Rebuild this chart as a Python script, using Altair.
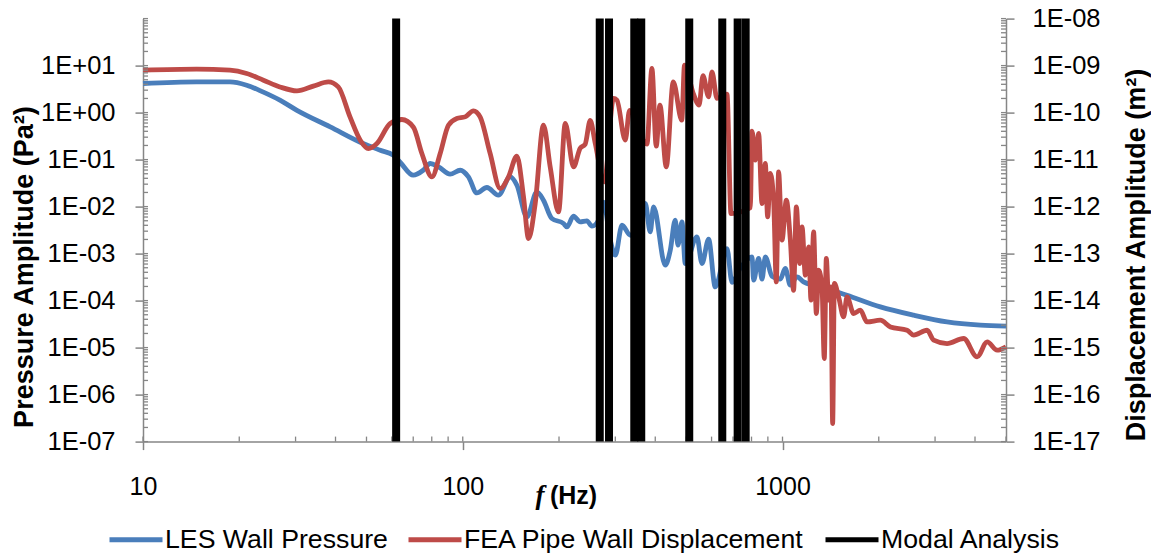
import altair as alt
import pandas as pd

# ---------------- data ----------------
les_freq = [10.0, 14.7, 18.7, 21.1, 23.7, 26.8, 30.3, 38.5, 48.8, 55.2, 60.6, 63.7, 70.0, 75.2,
            79.1, 84.0, 91.3, 98.2, 104.2, 110.7, 119.0, 129.3, 140.7, 147.7, 158.7, 170.5,
            178.8, 190.0, 206.6, 211.7, 222.0, 232.9, 244.5, 253.5, 269.1, 275.6, 289.3, 300.0,
            314.8, 334.1, 351.4, 372.2, 385.8, 395.1, 429.9, 445.7, 461.9, 471.0, 484.8, 496.5,
            540.1, 560.0, 587.3, 616.2, 670.4, 695.0, 737.9, 802.9, 812.2, 842.0, 862.8, 883.7,
            927.2, 984.2, 1020, 1058, 1110, 1164, 1251, 1345, 1481, 1591, 2023, 2572, 3270,
            4157, 5000]
les_amp = [4.16, 4.50, 4.50, 3.83, 2.76, 1.84, 1.12, 0.497, 0.220, 0.158, 0.124, 0.0881, 0.0466,
           0.0594, 0.0826, 0.070, 0.0489, 0.0594, 0.0429, 0.0195, 0.0255, 0.0175, 0.0429, 0.0285,
           0.00604, 0.0206, 0.0137, 0.00558, 0.00437, 0.00370, 0.00625, 0.00472, 0.00497,
           0.00383, 0.00604, 0.0124, 0.00193, 0.000925, 0.00402, 0.00246, 0.00402, 0.01164,
           0.0029, 0.00986, 0.000566, 0.00118, 0.00514, 0.00151, 0.00472, 0.000615, 0.00226,
           0.000615, 0.00202, 0.000195, 0.00128, 0.000246, 0.000489, 0.000851, 0.000272,
           0.000787, 0.000285, 0.000851, 0.000330, 0.000285, 0.000482, 0.000213, 0.000319,
           0.000250, 0.000213, 0.000195, 0.000153, 0.000130, 7.34e-5, 4.89e-5, 3.52e-5,
           3.00e-5, 2.85e-5]

fea_freq = [10.0, 14.7, 18.7, 21.1, 23.8, 26.8, 30.3, 34.1, 38.0, 40.8, 44.4, 47.8, 50.7, 53.9,
            59.3, 64.5, 70.1, 74.5, 80.1, 85.0, 90.2, 95.8, 101.7, 108.0, 113.3, 121.8, 130.9,
            139.0, 147.7, 154.9, 160.6, 168.5, 178.8, 187.7, 199.3, 209.2, 222.0, 232.9, 241.5,
            250.4, 259.6, 277.0, 296.2, 303.5, 322.3, 332.4, 376.7, 390.5, 402.8, 413.7, 433.0,
            455.3, 484.2, 493.7, 527.0, 548.3, 564.0, 587.3, 601.8, 624.0, 670.4, 690.1, 793.1,
            802.9, 822.2, 842.0, 862.8, 883.7, 898.5, 916.0, 938.1, 956.4, 972.3, 996.3, 1028,
            1058, 1083, 1105, 1131, 1151, 1179, 1207, 1228, 1251, 1276, 1297, 1329, 1351, 1371,
            1394, 1418, 1435, 1453, 1498, 1553, 1591, 1669, 1751, 1838, 2023, 2175, 2453, 2572,
            2832, 2970, 3270, 3686, 4060, 4364, 4690, 5000]
fea_amp = [7.98e-10, 8.38e-10, 7.98e-10, 6.79e-10, 4.89e-10, 3.52e-10, 2.90e-10, 3.65e-10,
           4.50e-10, 3.52e-10, 8.11e-11, 2.59e-11, 1.72e-11, 2.20e-11, 5.86e-11, 7.13e-11,
           4.89e-11, 1.35e-11, 4.29e-12, 1.35e-11, 5.40e-11, 7.49e-11, 8.11e-11, 1.09e-10,
           8.11e-11, 1.35e-11, 2.43e-12, 4.29e-12, 1.18e-11, 1.61e-12, 2.09e-13, 1.16e-12,
           5.40e-11, 7.00e-12, 7.71e-13, 5.86e-11, 7.00e-12, 1.75e-11, 2.13e-11, 6.79e-11,
           2.23e-11, 3.36e-12, 2.00e-10, 1.84e-10, 2.59e-11, 1.12e-10, 2.13e-11, 8.67e-10,
           1.93e-11, 1.44e-10, 7.00e-12, 4.50e-10, 6.89e-11, 1.02e-9, 2.46e-10, 1.44e-10,
           6.10e-10, 2.16e-10, 7.34e-10, 2.00e-10, 2.46e-10, 7.13e-13, 9.48e-13, 4.02e-11,
           9.71e-12, 3.59e-11, 1.16e-12, 8.26e-12, 6.04e-13, 5.06e-12, 1.37e-12, 2.50e-14,
           5.47e-12, 1.93e-13, 1.37e-12, 1.93e-13, 1.66e-14, 9.86e-13, 6.15e-14, 3.70e-13,
           3.47e-14, 1.39e-13, 1.02e-14, 2.90e-13, 5.32e-15, 4.44e-14, 1.95e-14, 5.86e-16,
           7.87e-14, 1.02e-14, 1.95e-14, 2.43e-17, 2.31e-14, 1.20e-14, 4.50e-15, 1.20e-14,
           5.32e-15, 6.25e-15, 3.52e-15, 3.83e-15, 2.75e-15, 2.34e-15, 1.84e-15, 2.34e-15,
           1.44e-15, 1.22e-15, 1.56e-15, 6.34e-16, 1.32e-15, 8.81e-16, 1.04e-15]

modal_freq = [61.9, 268.2, 286.7, 343.9, 361.6, 510.9, 648.1, 724.0, 767.0]

series_names = ["LES Wall Pressure", "FEA Pipe Wall Displacement", "Modal Analysis"]
series_colors = ["#4A7EBB", "#BE4B48", "#000000"]

x_major = [10, 100, 1000]
left_major = [1e-7, 1e-6, 1e-5, 1e-4, 1e-3, 1e-2, 1e-1, 1e0, 1e1]
right_major = [1e-17, 1e-16, 1e-15, 1e-14, 1e-13, 1e-12, 1e-11, 1e-10, 1e-9, 1e-8]
x_minor = [m * 10 ** k for k in (1, 2, 3) for m in range(1, 10) if m * 10 ** k <= 5000]
y_minor = [m * 10.0 ** k for k in range(-7, 2) for m in range(1, 10)] + [100.0]

# ---------------- styling ----------------
W, H = 863, 423
GRAY = "#868686"
FONT = "Liberation Sans"

xscale = alt.Scale(type="log", domain=[10, 5000], nice=False)
yl_scale = alt.Scale(type="log", domain=[1e-7, 1e2], nice=False)
yr_scale = alt.Scale(type="log", domain=[1e-17, 1e-8], nice=False)

exp_label = ("'1E' + (round(log(datum.value)/LN10) < 0 ? '-' : '+') + "
             "pad(toString(abs(round(log(datum.value)/LN10))), 2, '0', 'left')")

common_axis = dict(grid=False, tickSize=8, tickWidth=1.5, tickColor=GRAY, domainColor=GRAY,
                   domainWidth=1.5, labelFont=FONT, labelColor="black", labelFlush=False,
                   labelOverlap=False, titleFont=FONT, titleFontWeight="bold", titleColor="black")

# identical x axis spec in every layer so the shared axis merges cleanly
x_axis = alt.Axis(orient="bottom", values=x_major, labelExpr="toString(datum.value)",
                  labelFontSize=25, labelPadding=25,
                  title="(Hz)", titleFontSize=25, titleX=430, titleY=62,
                  titleAlign="center", titleBaseline="alphabetic", **common_axis)

left_axis = alt.Axis(orient="left", values=left_major, labelExpr=exp_label, labelFontSize=25.5,
                     labelPadding=20, title="Pressure Amplitude (Pa²)", titleFontSize=27,
                     titleAngle=270, titleAlign="center", titleBaseline="middle",
                     titleX=-119, titleY=248, **common_axis)

right_axis = alt.Axis(orient="right", values=right_major, labelExpr=exp_label, labelFontSize=25.5,
                      labelPadding=18, title="Displacement Amplitude (m²)", titleFontSize=27,
                      titleAngle=270, titleAlign="center", titleBaseline="middle",
                      titleX=130, titleY=236, **common_axis)

legend = alt.Legend(title=None, orient="none", legendX=-36, legendY=492, direction="horizontal",
                    symbolType="stroke", symbolSize=2809, symbolStrokeWidth=5,
                    labelFont=FONT, labelFontSize=26.7, labelColor="black", labelOffset=0,
                    labelLimit=1000, columnPadding=10, padding=0)

color = alt.Color("series:N", scale=alt.Scale(domain=series_names, range=series_colors),
                  legend=legend)

les_df = pd.DataFrame({"freq": les_freq, "amp": les_amp, "series": series_names[0]})
fea_df = pd.DataFrame({"freq": fea_freq, "amp": fea_amp, "series": series_names[1]})
modal_df = pd.DataFrame({"freq": modal_freq, "series": series_names[2]})

blue = alt.Chart(les_df).mark_line(strokeWidth=4.8, interpolate="monotone").encode(
    x=alt.X("freq:Q", scale=xscale, axis=x_axis),
    y=alt.Y("amp:Q", scale=yl_scale, axis=left_axis),
    color=color,
)

red = alt.Chart(fea_df).mark_line(strokeWidth=4.8, interpolate="monotone").encode(
    x=alt.X("freq:Q", scale=xscale, axis=x_axis),
    y=alt.Y("amp:Q", scale=yr_scale, axis=right_axis),
    color=color,
)

xt = alt.Chart(pd.DataFrame({"v": x_minor})).mark_tick(
    orient="vertical", size=5, thickness=1.3, color=GRAY, opacity=1, yOffset=-2.5
).encode(
    x=alt.X("v:Q", scale=xscale, axis=x_axis),
    y=alt.YDatum(1e-7, scale=yl_scale, axis=None),
)

yt_left = alt.Chart(pd.DataFrame({"v": y_minor})).mark_tick(
    orient="horizontal", size=5, thickness=1.3, color=GRAY, opacity=1, xOffset=2.5
).encode(
    x=alt.XDatum(10, scale=xscale, axis=x_axis),
    y=alt.Y("v:Q", scale=yl_scale, axis=None),
)

yt_right = alt.Chart(pd.DataFrame({"v": y_minor})).mark_tick(
    orient="horizontal", size=5, thickness=1.3, color=GRAY, opacity=1, xOffset=-2.5
).encode(
    x=alt.XDatum(5000, scale=xscale, axis=x_axis),
    y=alt.Y("v:Q", scale=yl_scale, axis=None),
)

modal = alt.Chart(modal_df).mark_rule(strokeWidth=8).encode(
    x=alt.X("freq:Q", scale=xscale, axis=x_axis),
    color=color,
)

ftext = alt.Chart(pd.DataFrame({"t": ["f"]})).mark_text(
    font="Liberation Serif", fontStyle="italic", fontWeight="bold", fontSize=27,
    align="center", baseline="alphabetic", color="black"
).encode(text="t:N", x=alt.value(397), y=alt.value(485.4))

chart = alt.layer(blue, red, xt, yt_left, yt_right, modal, ftext).resolve_scale(
    y="independent"
).properties(
    width=W, height=H,
    padding={"left": 143, "top": 18.6, "right": 145, "bottom": 112.4},
    autosize=alt.AutoSizeParams(type="none"),
    background="white",
).configure_view(strokeWidth=0)

chart.save("out.html", embed_options={"renderer": "svg", "actions": False})
